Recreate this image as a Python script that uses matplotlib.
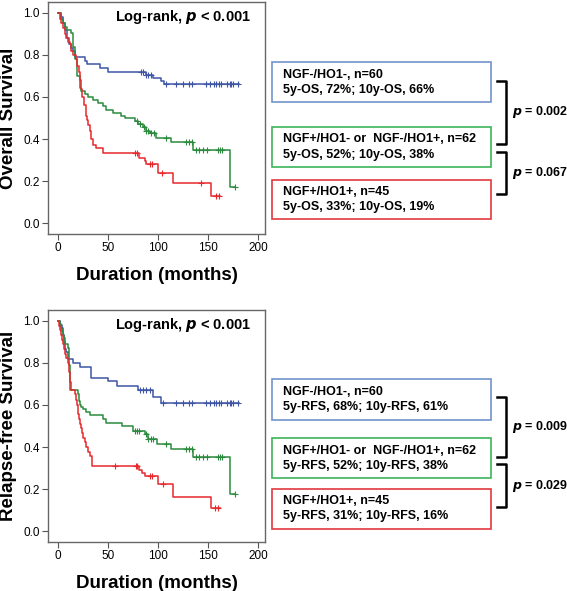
import numpy as np
import matplotlib
matplotlib.use("Agg")
from matplotlib import pyplot as plt
from matplotlib.patches import Rectangle
from matplotlib.lines import Line2D

plt.rcParams["font.family"] = ["Liberation Sans", "DejaVu Sans"]

W, H = 567, 591

# ---- overall survival (top) ----
os_blue_t = [0, 3, 5, 7, 9, 11, 13, 15, 17, 27, 29, 42, 50, 88, 95, 103, 106]
os_blue_s = [1.0, 0.983, 0.95, 0.917, 0.883, 0.85, 0.833, 0.817, 0.79, 0.773, 0.757, 0.74, 0.72, 0.705, 0.69, 0.675, 0.66]
os_blue_cens = [83, 85, 88, 90, 93, 108, 118, 125, 131, 134, 148, 152, 156, 158, 161, 163, 169, 172, 173, 175, 180]
os_blue_end = 181

os_green_t = [0, 3, 5, 7, 9, 13, 15, 17, 19, 22, 23, 27, 30, 35, 40, 45, 48, 55, 63, 67, 77, 80, 85, 88, 92, 98, 113, 135, 172]
os_green_s = [1.0, 0.97, 0.95, 0.935, 0.92, 0.903, 0.84, 0.78, 0.70, 0.645, 0.63, 0.613, 0.60, 0.585, 0.57, 0.555, 0.54, 0.525, 0.51, 0.50, 0.485, 0.47, 0.455, 0.44, 0.43, 0.407, 0.386, 0.348, 0.172]
os_green_cens = [79, 82, 86, 88, 90, 93, 96, 108, 128, 131, 134, 138, 141, 145, 149, 160, 162, 164, 177]
os_green_end = 177

os_red_t = [0, 2, 3, 5, 7, 8, 10, 12, 13, 15, 18, 19, 21, 22, 23, 24, 26, 28, 29, 30, 32, 33, 35, 38, 45, 81, 87, 88, 100, 115, 153]
os_red_s = [1.0, 0.97, 0.95, 0.93, 0.90, 0.88, 0.86, 0.85, 0.82, 0.80, 0.78, 0.747, 0.72, 0.68, 0.64, 0.60, 0.56, 0.51, 0.49, 0.465, 0.44, 0.40, 0.37, 0.356, 0.335, 0.31, 0.296, 0.28, 0.237, 0.19, 0.127]
os_red_cens = [77, 79, 92, 94, 104, 143, 158, 161]
os_red_end = 162

# ---- relapse-free survival (bottom) ----
rfs_blue_t = [0, 2, 4, 5, 6, 7, 8, 10, 15, 22, 33, 50, 59, 80, 95, 103]
rfs_blue_s = [1.0, 0.983, 0.967, 0.933, 0.9, 0.867, 0.85, 0.817, 0.8, 0.78, 0.729, 0.714, 0.69, 0.673, 0.638, 0.61]
rfs_blue_cens = [82, 85, 88, 92, 105, 118, 125, 131, 134, 148, 152, 156, 158, 161, 163, 169, 172, 173, 175, 180]
rfs_blue_end = 181

rfs_green_t = [0, 2, 3, 4, 5, 6, 7, 10, 11, 12, 20, 21, 22, 23, 25, 28, 32, 45, 48, 64, 75, 87, 90, 99, 113, 135, 172]
rfs_green_s = [1.0, 0.984, 0.968, 0.952, 0.935, 0.92, 0.89, 0.87, 0.79, 0.672, 0.65, 0.62, 0.60, 0.59, 0.58, 0.565, 0.55, 0.532, 0.516, 0.50, 0.476, 0.46, 0.44, 0.413, 0.389, 0.354, 0.178]
rfs_green_cens = [77, 79, 81, 88, 90, 93, 95, 108, 128, 131, 134, 138, 141, 145, 149, 160, 162, 164, 177]
rfs_green_end = 177

rfs_red_t = [0, 1, 2, 3, 4, 5, 6, 7, 8, 10, 11, 12, 13, 17, 18, 19, 20, 21, 22, 23, 24, 25, 27, 28, 30, 32, 34, 81, 84, 87, 100, 115, 153]
rfs_red_s = [1.0, 0.978, 0.956, 0.933, 0.911, 0.889, 0.867, 0.844, 0.822, 0.8, 0.756, 0.711, 0.672, 0.65, 0.622, 0.6, 0.556, 0.533, 0.511, 0.489, 0.467, 0.444, 0.422, 0.4, 0.378, 0.356, 0.311, 0.29, 0.275, 0.262, 0.222, 0.163, 0.108]
rfs_red_cens = [57, 78, 79, 92, 94, 105, 157, 160]
rfs_red_end = 162

group_labels = ["NGF-/HO1-, n=60", "NGF+/HO1- or  NGF-/HO1+, n=62", "NGF+/HO1+, n=45"]
os_rates = ["5y-OS, 72%; 10y-OS, 66%", "5y-OS, 52%; 10y-OS, 38%", "5y-OS, 33%; 10y-OS, 19%"]
rfs_rates = ["5y-RFS, 68%; 10y-RFS, 61%", "5y-RFS, 52%; 10y-RFS, 38%", "5y-RFS, 31%; 10y-RFS, 16%"]
os_pvals = ["p = 0.002", "p = 0.067"]
rfs_pvals = ["p = 0.009", "p = 0.029"]

line_colors = ["#3f55a6", "#2b8a3e", "#e8282d"]
box_colors = ["#7294cc", "#3cb45a", "#e23a3f"]


def fx(x):
    return x / W


def fy(y):
    return 1 - y / H


def km(ax, t, s, cens, end, color):
    t = np.r_[t, end]
    s = np.r_[s, s[-1]]
    ax.step(t, s, where="post", color=color, lw=1.1)
    idx = np.searchsorted(t, cens, side="right") - 1
    ax.plot(cens, s[idx], "+", color=color, ms=4, mew=0.8, ls="none")


fig = plt.figure(figsize=(W / 100, H / 100), dpi=100)

panels = [
    dict(top=2, ylabel="Overall Survival",
         curves=[(os_blue_t, os_blue_s, os_blue_cens, os_blue_end),
                 (os_green_t, os_green_s, os_green_cens, os_green_end),
                 (os_red_t, os_red_s, os_red_cens, os_red_end)],
         rates=os_rates, pvals=os_pvals,
         boxes=[(62, 102), (127, 167), (180, 219)],
         brackets=[(81, 144), (152, 194)]),
    dict(top=310, ylabel="Relapse-free Survival",
         curves=[(rfs_blue_t, rfs_blue_s, rfs_blue_cens, rfs_blue_end),
                 (rfs_green_t, rfs_green_s, rfs_green_cens, rfs_green_end),
                 (rfs_red_t, rfs_red_s, rfs_red_cens, rfs_red_end)],
         rates=rfs_rates, pvals=rfs_pvals,
         boxes=[(379, 420), (438, 478), (489, 529)],
         brackets=[(397, 457), (464, 507)]),
]

for p in panels:
    top = p["top"]
    bot = top + 232
    ax = fig.add_axes([fx(48), fy(bot), fx(265 - 48), (bot - top) / H])
    for (t, s, c, e), col in zip(p["curves"], line_colors):
        km(ax, t, s, c, e, col)
    ax.set_xlim(-10.3, 207)
    ax.set_ylim(-0.052, 1.052)
    ax.set_xticks([0, 50, 100, 150, 200])
    ax.set_yticks([0.0, 0.2, 0.4, 0.6, 0.8, 1.0])
    ax.set_yticklabels(["0.0", "0.2", "0.4", "0.6", "0.8", "1.0"])
    ax.tick_params(labelsize=8.5, length=4, width=0.8, color="#555555", pad=2)
    for sp in ax.spines.values():
        sp.set_color("#666666")
        sp.set_linewidth(1.0)
    ax.text(0.31, 0.935, "Log-rank, $\\mathbfit{p}$ < 0.001", transform=ax.transAxes,
            fontsize=10.5, fontweight="bold", va="center", ha="left")
    ax.set_xlabel("Duration (months)", fontsize=13.5, fontweight="bold", labelpad=9)
    fig.text(fx(9), fy((top + bot) / 2), p["ylabel"], rotation=90, fontsize=13.5,
             fontweight="bold", ha="center", va="center")

    # legend boxes
    for (y0, y1), col, lab, rate in zip(p["boxes"], box_colors, group_labels, p["rates"]):
        fig.patches.append(Rectangle((fx(272), fy(y1)), fx(491 - 272), (y1 - y0) / H,
                                     transform=fig.transFigure, fill=False,
                                     edgecolor=col, lw=1.2))
        yc = (y0 + y1) / 2
        fig.text(fx(283), fy(yc - 7.5), lab, fontsize=9, fontweight="bold", va="center")
        fig.text(fx(283), fy(yc + 7.5), rate, fontsize=9, fontweight="bold", va="center")

    # brackets
    for (y0, y1), pv in zip(p["brackets"], p["pvals"]):
        xs = [fx(497), fx(506), fx(506), fx(497)]
        ys = [fy(y0), fy(y0), fy(y1), fy(y1)]
        fig.lines.append(Line2D(xs, ys, transform=fig.transFigure, color="black", lw=1.8))
        fig.text(fx(512), fy((y0 + y1) / 2), "$\\mathbfit{p}$" + pv[1:], fontsize=9,
                 fontweight="bold", va="center", ha="left")

fig.savefig("out.png", dpi=100)
